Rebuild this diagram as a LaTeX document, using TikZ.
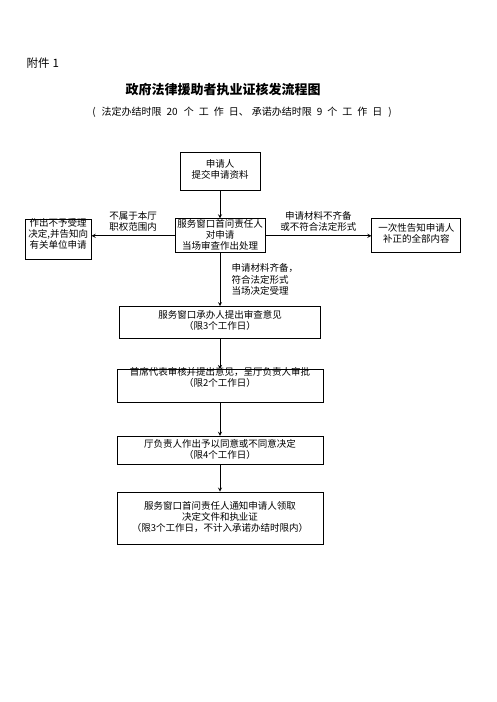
\documentclass[tikz,border=0pt]{standalone}
\usepackage{fontspec}
\setmainfont{Noto Sans CJK SC}
\usetikzlibrary{shapes,arrows,positioning}

% text block at the top of a box: width, height, top gap, lines
\newcommand{\boxtext}[4]{\parbox[c][#2][t]{#1}{\centering\vspace*{#3}#4}}

\begin{document}
\begin{tikzpicture}[x=1pt, y=-1pt, node distance=28pt, auto]
    % Define styles
    \tikzstyle{stage} = [rectangle, draw=black, line width=0.8pt, inner sep=0pt, font=\fontsize{9.5pt}{11pt}\selectfont]
    \tikzstyle{note} = [font=\fontsize{9.5pt}{11.5pt}\selectfont, align=center]
    \tikzstyle{arrow} = [line width=0.8pt,->,>=stealth]

    \useasboundingbox (0,0) rectangle (496,702);

    % Heading
    \node [anchor=west, font=\fontsize{11.5pt}{13pt}\selectfont] (annex) at (23,63) {附件\hspace{3pt}1};
    \node [font=\fontsize{13pt}{15pt}\selectfont\bfseries] (title) at (223,90) {政府法律援助者执业证核发流程图};
    \node [font=\fontsize{10pt}{13pt}\selectfont] (subtitle) at (242,112) {(\hspace{6pt}法定办结时限\hspace{5pt}20\hspace{6pt}个\hspace{5pt}工\hspace{5pt}作\hspace{5pt}日、\hspace{3pt}承诺办结时限\hspace{5pt}9\hspace{5pt}个\hspace{5pt}工\hspace{5pt}作\hspace{5pt}日\hspace{6pt})};

    % Nodes
    \node [stage] (apply) at (220,171) {\boxtext{80pt}{38pt}{8pt}{申请人\\提交申请资料}};
    \node [stage, below=28pt of apply] (check) {\boxtext{90pt}{34pt}{0.5pt}{服务窗口首问责任人\\对申请\\当场审查作出处理}};
    \node [stage, left=83pt of check, yshift=-4pt] (refuse) {\boxtext{66pt}{40pt}{-1.5pt}{作出不予受理\\决定,并告知向\\有关单位申请}};
    \node [stage, right=106pt of check] (supply) {\boxtext{89pt}{34pt}{4.5pt}{一次性告知申请人\\补正的全部内容}};
    \node [stage, below=53pt of check] (review) {\boxtext{201pt}{32pt}{3.5pt}{服务窗口承办人提出审查意见\\（限3个工作日）}};
    \node [stage, below=30pt of review] (chief) {\boxtext{206pt}{33pt}{-1.5pt}{首席代表审核并提出意见，呈厅负责人审批\\（限2个工作日）}};
    \node [stage, below=33pt of chief] (decide) {\boxtext{206pt}{28pt}{3.5pt}{厅负责人作出予以同意或不同意决定\\（限4个工作日）}};
    \node [stage, below=27pt of decide] (notify) {\boxtext{206pt}{52pt}{9.5pt}{服务窗口首问责任人通知申请人领取\\决定文件和执业证\\（限3个工作日，不计入承诺办结时限内）}};

    % Arrows
    \draw [arrow] (apply) -- (check);
    \draw [arrow] (check.west) -- node [note, above, inner sep=4pt] (outscope) {不属于本厅\\职权范围内} (check.west -| refuse.east);
    \draw [arrow] (check.east) -- node [note, above, inner sep=4pt] (incomplete) {申请材料不齐备\\或不符合法定形式} (supply);
    \draw [arrow] (check) -- node [note, right, align=left, xshift=8pt] (accepted) {申请材料齐备，\\符合法定形式\\当场决定受理} (review);
    \draw [arrow] (review) -- (chief);
    \draw [arrow] (chief) -- (decide);
    \draw [arrow] (decide) -- (notify);
\end{tikzpicture}
\end{document}
